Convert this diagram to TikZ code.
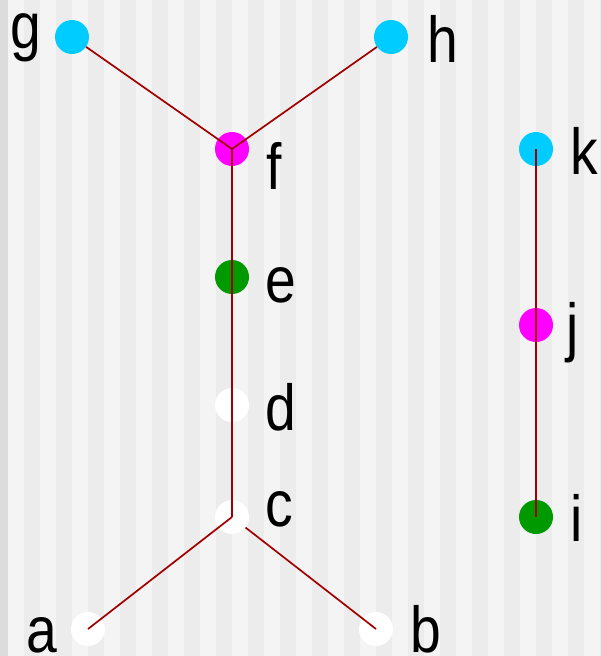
\documentclass[tikz,border=0pt]{standalone}
\usepackage{fontspec}
\setmainfont{Liberation Sans}[FakeStretch=0.85]
\usetikzlibrary{positioning, backgrounds}
\definecolor{cian}{HTML}{00CCFF}
\definecolor{magenta}{HTML}{FF00FF}
\definecolor{verde}{HTML}{009900}
\definecolor{rojo}{HTML}{A00000}
\definecolor{franjaclara}{HTML}{F4F4F4}
\definecolor{franjaoscura}{HTML}{ECECEC}
\definecolor{borde}{HTML}{DCDCDC}

\begin{document}
\begin{tikzpicture}[
  x=1pt, y=-1pt,
  punto/.style={circle, draw=none, minimum size=34pt, inner sep=0pt},
  lbl/.style={anchor=base west, inner sep=0pt, font=\fontsize{65}{70}\selectfont},
  arista/.style={rojo, line width=1.7pt},
]

% --- Fondo a franjas ---
\useasboundingbox (0,0) rectangle (601,656);
\fill[franjaclara] (0,0) rectangle (601,656);
\fill[borde] (0,0) rectangle (8,656);
\foreach \xx in {24,56,...,600}
  \fill[franjaoscura] (\xx,0) rectangle ({min(\xx+16,601)},656);

% --- Nodos del arbol ---
\node[punto, fill=cian]    (g) at (72,37)   {};
\node[punto, fill=cian]    (h) at (391,37)  {};
\node[punto, fill=magenta] (f) at (232,149) {};
\node[punto, fill=verde]   (e) at (232,277) {};
\node[punto, fill=white]   (d) at (232,405) {};
\node[punto, fill=white]   (c) at (232,517) {};
\node[punto, fill=white]   (a) at (88,629)  {};
\node[punto, fill=white]   (b) at (376,629) {};

% --- Nodos de la cadena ---
\node[punto, fill=cian]    (k) at (536,149) {};
\node[punto, fill=magenta] (j) at (536,325) {};
\node[punto, fill=verde]   (i) at (536,517) {};

% --- Etiquetas ---
\node[lbl] (lg) at (10,48)   {g};
\node[lbl] (lh) at (427,62)  {h};
\node[lbl] (lf) at (266,189) {f};
\node[lbl] (le) at (265,302) {e};
\node[lbl] (ld) at (265,430) {d};
\node[lbl] (lc) at (265,526) {c};
\node[lbl] (la) at (26,652)  {a};
\node[lbl] (lb) at (410,652) {b};
\node[lbl] (lk) at (570,174) {k};
\node[lbl] (lj) at (566,349) {j};
\node[lbl] (li) at (570,541) {i};

% --- Aristas ---
\draw[arista] (f.center) -- (g);
\draw[arista] (f.center) -- (h);
\draw[arista] (c.center) -- (f.center);
\draw[arista] (a.center) -- (c.center);
\draw[arista] (c) -- (b.center);
\draw[arista] (k.center) -- (i.center);

\end{tikzpicture}
\end{document}
